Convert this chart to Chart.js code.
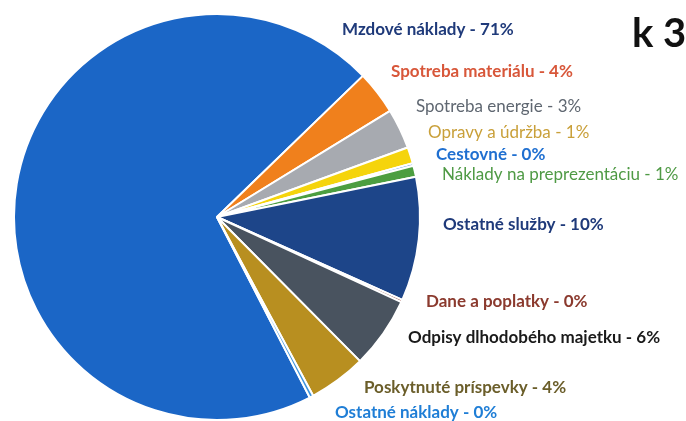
<!DOCTYPE html>
<html>
<head>
<meta charset="utf-8">
<script src="https://cdn.jsdelivr.net/npm/chart.js@4.4.0/dist/chart.umd.min.js"></script>
<style>
  html, body { margin: 0; padding: 0; background: #fff; }
  #wrap { width: 686px; height: 421px; position: relative; }
</style>
</head>
<body>
<div id="wrap"><canvas id="myChart" width="686" height="421"></canvas></div>
<script>
// categories + shares (labels show rounded %)
const categories = [
  "Mzdové náklady", "Spotreba materiálu", "Spotreba energie", "Opravy a údržba",
  "Cestovné", "Náklady na preprezentáciu", "Ostatné služby", "Dane a poplatky",
  "Odpisy dlhodobého majetku", "Poskytnuté príspevky", "Ostatné náklady"
];
const values = [70.6, 3.5, 3.2, 1.3, 0.2, 0.9, 9.9, 0.2, 5.7, 4.6, 0.3];
const pctLabels = ["71%", "4%", "3%", "1%", "0%", "1%", "10%", "0%", "6%", "4%", "0%"];

const sliceColors = ["#1b66c6", "#f0801c", "#a7aab0", "#f5d40c", "#2f7fd4", "#4c9e40",
  "#1d4589", "#8b3a2e", "#49535f", "#b88f20", "#3d93dc"];
const textColors = ["#1f3a7a", "#d8573a", "#5f6771", "#c9a03a", "#1f6fd0", "#4f9a45",
  "#1f3a7a", "#8b3a2e", "#1a1a1a", "#6b5e2a", "#1f7ed6"];
const textBold = [true, true, false, false, true, false, true, true, true, true, true];
// where each label sits (left x, middle y)
const labelPos = [[342, 30], [391, 72], [416, 107], [428, 133], [436, 155], [442, 175],
  [443, 225], [426, 302], [408, 338], [364, 388], [335, 413]];

const labelPlugin = {
  id: 'sideLabels',
  afterDraw(chart) {
    const ctx = chart.ctx;
    ctx.save();
    ctx.textBaseline = 'middle';
    ctx.textAlign = 'left';
    categories.forEach((c, i) => {
      ctx.font = (textBold[i] ? 'bold ' : '') + '17px Lato, "Open Sans", sans-serif';
      ctx.fillStyle = textColors[i];
      ctx.fillText(c + ' - ' + pctLabels[i], labelPos[i][0], labelPos[i][1]);
    });
    ctx.font = 'bold 40px Lato, "Open Sans", sans-serif';
    ctx.fillStyle = '#111';
    ctx.fillText('k 3', 632, 34);
    ctx.restore();
  }
};

const ctx = document.getElementById('myChart');
new Chart(ctx, {
  type: 'pie',
  data: {
    labels: categories,
    datasets: [{
      data: values,
      backgroundColor: sliceColors,
      borderColor: '#ffffff',
      borderWidth: 2
    }]
  },
  options: {
    responsive: false,
    animation: false,
    rotation: 152.8,
    layout: { padding: { left: 13, top: 13, right: 265, bottom: 0 } },
    plugins: {
      legend: { display: false },
      tooltip: { enabled: false }
    }
  },
  plugins: [labelPlugin]
});
</script>
</body>
</html>
